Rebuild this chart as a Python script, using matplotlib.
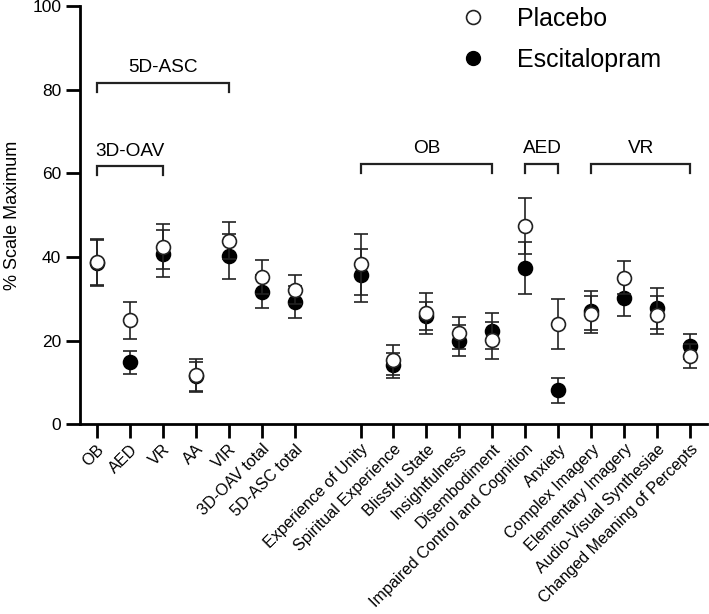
import matplotlib.pyplot as plt
from matplotlib.lines import Line2D

plt.rcParams["font.family"] = ["Liberation Sans", "DejaVu Sans"]

# categories and their slots on the x axis (gap between totals and 11D-ASC items)
labels = ["OB", "AED", "VR", "AA", "VIR", "3D-OAV total", "5D-ASC total",
          "Experience of Unity", "Spiritual Experience", "Blissful State",
          "Insightfulness", "Disembodiment", "Impaired Control and Cognition",
          "Anxiety", "Complex Imagery", "Elementary Imagery",
          "Audio-Visual Synthesiae", "Changed Meaning of Percepts"]
slots = [0, 1, 2, 3, 4, 5, 6, 8, 9, 10, 11, 12, 13, 14, 15, 16, 17, 18]

placebo_mean = [38.8, 24.9, 42.5, 11.7, 43.9, 35.2, 32.2, 38.3, 15.4, 26.5,
                21.8, 20.1, 47.4, 23.9, 26.3, 35.1, 26.1, 16.3]
placebo_err = [5.4, 4.4, 5.3, 3.9, 4.4, 4.0, 3.4, 7.3, 3.6, 4.9,
               3.9, 4.4, 6.6, 6.0, 4.4, 4.0, 4.5, 2.8]
escit_mean = [38.5, 14.8, 40.8, 11.5, 40.2, 31.7, 29.3, 35.6, 14.1, 25.9,
              20.0, 22.2, 37.4, 8.1, 27.2, 30.3, 27.7, 18.7]
escit_err = [5.5, 2.8, 5.6, 3.5, 5.4, 4.0, 3.8, 6.3, 3.0, 3.4,
             3.7, 4.3, 6.2, 3.0, 4.7, 4.5, 4.8, 3.0]

# bracket groups: (label, first category, last category, height)
groups = [("5D-ASC", "OB", "VIR", 81.7),
          ("3D-OAV", "OB", "VR", 61.7),
          ("OB", "Experience of Unity", "Disembodiment", 62.3),
          ("AED", "Impaired Control and Cognition", "Anxiety", 62.3),
          ("VR", "Complex Imagery", "Changed Meaning of Percepts", 62.3)]

fig = plt.figure(figsize=(7.09, 6.14), dpi=100)
ax = fig.add_axes([0.113, 0.309, 0.884, 0.681])

err_style = dict(fmt="o", ms=10, mew=1.2, ecolor="#222222", elinewidth=1.2,
                 capsize=5, capthick=1.2)
ax.errorbar(slots, escit_mean, yerr=escit_err, mfc="black", mec="black",
            zorder=2, **err_style)
ax.errorbar(slots, placebo_mean, yerr=placebo_err, mfc="white", mec="#222222",
            zorder=3, **err_style)

pos = dict(zip(labels, slots))
for name, first, last, y in groups:
    x0, x1 = pos[first], pos[last]
    ax.plot([x0, x0, x1, x1], [y - 2.2, y, y, y - 2.2], color="#222222",
            lw=1.6, solid_joinstyle="miter")
    ax.text((x0 + x1) / 2, y + 1.6, name, ha="center", va="bottom", fontsize=13.7)

ax.set_xlim(-0.5, 18.5)
ax.set_ylim(0, 100)
ax.set_yticks(range(0, 101, 20))
ax.set_xticks(slots)
ax.set_xticklabels(labels, rotation=45, ha="right", rotation_mode="anchor",
                   fontsize=11.6)
ax.tick_params(axis="both", direction="out", length=10, width=2)
ax.tick_params(axis="x", pad=2.5)
ax.tick_params(axis="y", labelsize=12.5)
ax.set_ylabel("% Scale Maximum", fontsize=13, labelpad=8)
for side in ["top", "right"]:
    ax.spines[side].set_visible(False)
for side in ["left", "bottom"]:
    ax.spines[side].set_linewidth(2)

handles = [Line2D([], [], ls="none", marker="o", ms=10, mfc="white", mec="#222222", mew=1.2),
           Line2D([], [], ls="none", marker="o", ms=10, mfc="black", mec="black")]
ax.legend(handles, ["Placebo", "Escitalopram"], loc="upper left",
          bbox_to_anchor=(0.587, 0.999), frameon=False, fontsize=18,
          borderpad=0, borderaxespad=0, handletextpad=0.75, labelspacing=0.69)

fig.savefig("out.png", dpi=100)
